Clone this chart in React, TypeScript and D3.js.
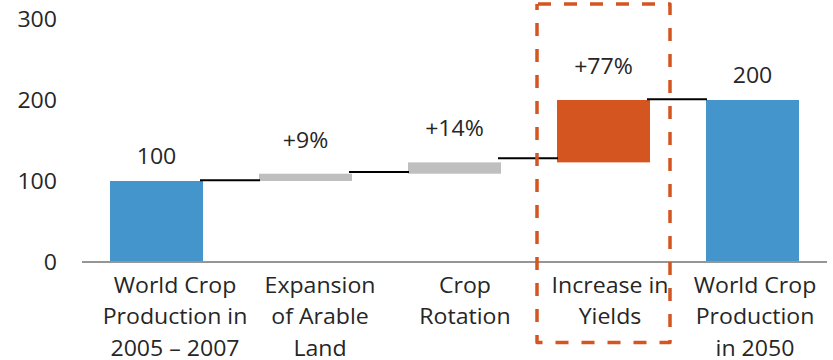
import React, { useEffect } from "react";
import * as d3 from "d3";

// Waterfall: world crop production index, 2005–2007 → 2050
const categories = [
  "World Crop\nProduction in\n2005 – 2007",
  "Expansion\nof Arable\nLand",
  "Crop\nRotation",
  "Increase in\nYields",
  "World Crop\nProduction\nin 2050",
];
const barKinds = ["total", "increase", "increase", "increase", "total"];
const barValues = [100, 9, 14, 77, 200];
const valueLabels = ["100", "+9%", "+14%", "+77%", "200"];
const connectorLevels = [101, 111, 128, 201];
const yTicks = [0, 100, 200, 300];
const highlightedCategory = "Increase in\nYields";

const W = 833;
const H = 360;
const FONT = "'Open Sans', Lato, sans-serif";
const TEXT = "#262626";
const BLUE = "#4495CB";
const GRAY = "#BFBFBF";
const ORANGE = "#D55521";
const SX = 1.1;

export default function App() {
  useEffect(() => {
    document.body.style.margin = "0";
  }, []);

  const x = d3
    .scaleBand<string>()
    .domain(categories)
    .range([82, 827])
    .paddingInner(0.376)
    .paddingOuter(0.188);
  // category captions sit on their own band, a little right of the bars
  const xLabel = d3.scaleBand<string>().domain(categories).range([102.5, 827.5]);
  const y = d3.scaleLinear().domain([0, 300]).range([262, 19]);

  // running totals for the floating bars
  let running = 0;
  const bars = categories.map((c, i) => {
    let start: number;
    let end: number;
    if (barKinds[i] === "total") {
      start = 0;
      end = barValues[i];
    } else {
      start = running;
      end = running + barValues[i];
    }
    running = end;
    const fill =
      barKinds[i] === "total" ? BLUE : c === highlightedCategory ? ORANGE : GRAY;
    return { c, i, start, end, fill, kind: barKinds[i] };
  });

  const bw = x.bandwidth();
  const hx = (x(highlightedCategory) as number) + bw / 2;

  const scaledText = (
    key: string,
    tx: number,
    ty: number,
    s: string,
    anchor: "start" | "middle" | "end"
  ) => (
    <text
      key={key}
      transform={`translate(${tx},${ty}) scale(${SX},1)`}
      textAnchor={anchor}
      fontFamily={FONT}
      fontSize={21}
      fill={TEXT}
    >
      {s}
    </text>
  );

  return (
    <svg width={W} height={H} style={{ display: "block", background: "#fff" }}>
      {/* y tick labels */}
      {yTicks.map((t) => scaledText(`yt${t}`, 57, y(t) + 7.5, String(t), "end"))}

      {/* bars */}
      {bars.map((b) => (
        <rect
          key={`b${b.i}`}
          x={x(b.c)}
          y={y(b.end)}
          width={bw}
          height={y(b.start) - y(b.end)}
          fill={b.fill}
        />
      ))}

      {/* connectors between consecutive bars */}
      {connectorLevels.map((v, i) => (
        <line
          key={`cn${i}`}
          x1={(x(categories[i]) as number) + bw - 3}
          x2={(x(categories[i + 1]) as number) + 1}
          y1={y(v)}
          y2={y(v)}
          stroke="#000"
          strokeWidth={2}
        />
      ))}

      {/* baseline */}
      <line x1={82} x2={827} y1={y(0)} y2={y(0)} stroke="#969696" strokeWidth={2} />

      {/* value labels */}
      {bars.map((b) =>
        scaledText(
          `vl${b.i}`,
          (x(b.c) as number) + bw / 2,
          y(b.end) - (b.kind === "total" ? 17 : 26),
          valueLabels[b.i],
          "middle"
        )
      )}

      {/* category labels */}
      {categories.map((c) =>
        c.split("\n").map((line, j) =>
          scaledText(
            `cl${c}${j}`,
            (xLabel(c) as number) + xLabel.bandwidth() / 2,
            292.5 + j * 31.5,
            line,
            "middle"
          )
        )
      )}

      {/* highlight box */}
      <rect
        x={hx - 66.5}
        y={y(300) - 15}
        width={133}
        height={338.5}
        fill="none"
        stroke={ORANGE}
        strokeWidth={3.5}
        strokeDasharray="13 13"
        strokeDashoffset={-1}
        strokeLinejoin="round"
      />
    </svg>
  );
}
